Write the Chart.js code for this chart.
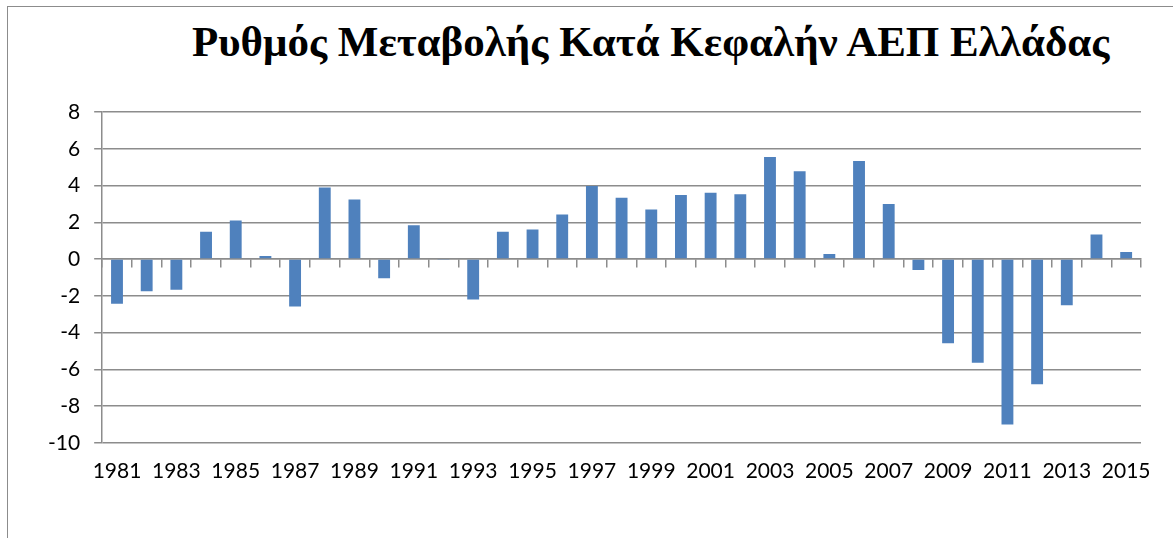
<!DOCTYPE html>
<html>
<head>
<meta charset="utf-8">
<title>Ρυθμός Μεταβολής Κατά Κεφαλήν ΑΕΠ Ελλάδας</title>
<script src="https://cdn.jsdelivr.net/npm/chart.js@4.4.1/dist/chart.umd.min.js"></script>
<style>
  html, body { margin: 0; padding: 0; background: #fff; }
  #wrap { position: relative; width: 1173px; height: 538px; overflow: hidden; }
  #frame { position: absolute; left: 7px; top: 6px; width: 1200px; height: 600px; border: 1.5px solid #8c8c8c; }
  #title {
    position: absolute; left: 192px; top: 17px; margin: 0;
    font-family: "Liberation Serif", "Times New Roman", serif;
    font-weight: bold; font-size: 43px; color: #000; white-space: nowrap;
  }
  #myChart { position: absolute; left: 0; top: 0; }
</style>
</head>
<body>
<div id="wrap">
  <div id="frame"></div>
  <h1 id="title">Ρυθμός Μεταβολής Κατά Κεφαλήν ΑΕΠ Ελλάδας</h1>
  <canvas id="myChart" width="1173" height="538"></canvas>
</div>
<script>
const years = [];
for (let y = 1981; y <= 2015; y++) years.push(String(y));

// ρυθμός μεταβολής (%) ανά έτος, διαβασμένα από το γράφημα
const growth = [
  -2.44, -1.75, -1.67, 1.49, 2.09, 0.16, -2.58, 3.89, 3.24, -1.05,
  1.84, -0.05, -2.2, 1.49, 1.6, 2.42, 3.98, 3.33, 2.69, 3.49,
  3.6, 3.53, 5.55, 4.78, 0.27, 5.33, 3.0, -0.6, -4.58, -5.64,
  -9.0, -6.82, -2.51, 1.33, 0.38
];

const yMin = -10;
const yMax = 8;
const yStep = 2;

const gridColor = "#8c8c8c";
const labelFont = { family: "Lato, 'Open Sans', sans-serif", size: 21 };

const ctx = document.querySelector("#myChart").getContext("2d");
new Chart(ctx, {
  type: "bar",
  data: {
    labels: years,
    datasets: [{
      data: growth,
      backgroundColor: "#4f81bd",
      borderWidth: 0,
      barPercentage: 0.4,
      categoryPercentage: 1,
    }],
  },
  options: {
    responsive: false,
    animation: false,
    layout: { padding: { top: 112, bottom: 38, left: 34, right: 32 } },
    plugins: {
      legend: { display: false },
      tooltip: { enabled: false },
    },
    scales: {
      x: {
        grid: { display: false, drawTicks: false },
        border: { display: false },
        ticks: {
          color: "#000",
          font: labelFont,
          padding: 16,
          autoSkip: false,
          maxRotation: 0,
          callback: function (value, index) {
            return index % 2 === 0 ? this.getLabelForValue(value) : "";
          },
        },
      },
      xZero: {
        type: "category",
        position: { y: 0 },
        grid: { offset: true, drawOnChartArea: false, tickLength: 8, color: gridColor, lineWidth: 1.5 },
        border: { display: true, color: gridColor, width: 1.5 },
        ticks: { color: "transparent", autoSkip: false, maxRotation: 0 },
      },
      y: {
        min: yMin,
        max: yMax,
        ticks: { stepSize: yStep, color: "#000", font: labelFont, padding: 14 },
        grid: { color: gridColor, lineWidth: 1.5, tickLength: 8 },
        border: { display: true, color: gridColor, width: 1.5 },
      },
    },
  },
});
</script>
</body>
</html>
